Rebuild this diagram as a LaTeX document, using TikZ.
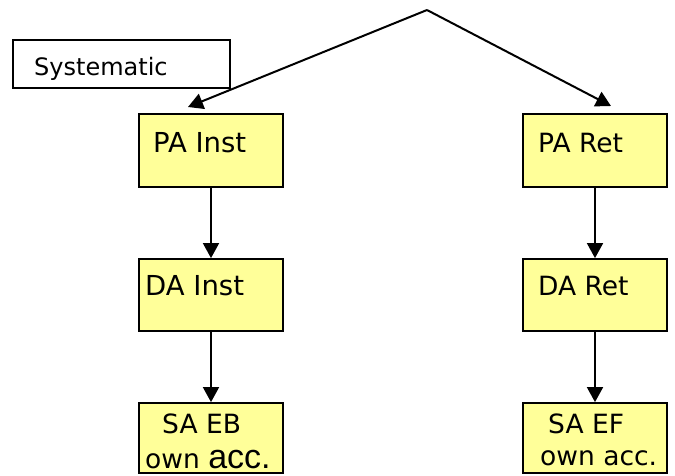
\documentclass[tikz,border=0pt]{standalone}
\usepackage{fontspec}
\setmainfont{DejaVu Sans}
\newfontfamily\arialfont{Liberation Sans}
\usetikzlibrary{arrows.meta}
\definecolor{boxyellow}{RGB}{255,255,153}

\begin{document}
\begin{tikzpicture}[x=1pt,y=-1pt,
  box/.style={draw=black, line width=1.8pt, fill=boxyellow, inner sep=0pt,
              minimum width=144pt, minimum height=#1},
  plainbox/.style={draw=black, line width=1.8pt, fill=white, inner sep=0pt,
              minimum width=217pt, minimum height=48pt},
  lbl/.style={inner sep=0pt, anchor=base west, font=\fontsize{26.5}{30}\selectfont},
  biglbl/.style={lbl, font=\fontsize{27.5}{31}\selectfont},
  conn/.style={line width=1.8pt, -{Triangle[length=15pt,width=16pt]}}
]
% canvas
\fill[white] (0,0) rectangle (675,475);
\useasboundingbox (0,0) rectangle (675,475);

% legend box
\node[plainbox] (sys) at (121.5,64) {};
\node[lbl, font=\fontsize{24}{28}\selectfont] (systxt) at (34,75) {Systematic};

% left column
\node[box=73] (pai) at (211,150.5) {};
\node[box=72] (dai) at (211,295) {};
\node[box=70] (saeb) at (211,438) {};
\node[biglbl] (paitxt) at (153,152) {PA Inst};
\node[biglbl] (daitxt) at (145,295) {DA Inst};
\node[lbl] (saebtxt) at (162,433) {SA EB};
\node[lbl] (saebacc) at (145,468) {own {\arialfont\fontsize{34}{36}\selectfont acc.}};

% right column
\node[box=73] (par) at (595,150.5) {};
\node[box=72] (dar) at (595,295) {};
\node[box=70] (saef) at (595,438) {};
\node[lbl] (partxt) at (538,152) {PA Ret};
\node[lbl] (dartxt) at (538,295) {DA Ret};
\node[lbl] (saeftxt) at (548,433) {SA EF};
\node[lbl] (saefacc) at (540,465) {own acc.};

% branching arrows from the apex
\coordinate (apex) at (427,10);
\coordinate (tipL) at (188,107);
\coordinate (tipR) at (611,106);
\draw[conn, line width=2pt] (apex) -- (tipL);
\draw[conn, line width=2pt] (apex) -- (tipR);

% vertical chains
\draw[conn] (pai.south) -- (dai.north);
\draw[conn] (dai.south) -- (saeb.north);
\draw[conn] (par.south) -- (dar.north);
\draw[conn] (dar.south) -- (saef.north);
\end{tikzpicture}
\end{document}
